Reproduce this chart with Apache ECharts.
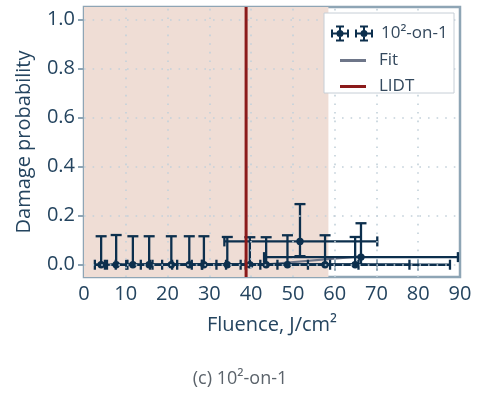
<!DOCTYPE html>
<html>
<head>
<meta charset="utf-8">
<script src="https://cdn.jsdelivr.net/npm/echarts@6/dist/echarts.min.js"></script>
<style>
  html, body { margin: 0; padding: 0; background: #fff; }
  #chart { width: 480px; height: 394px; }
</style>
</head>
<body>
<div id="chart"></div>
<script>
// measured points (fluence in J/cm2, damage probability)
const fluence = [4.1, 7.7, 11.7, 15.6, 20.9, 25.2, 28.7, 34.3, 39.7, 43.6, 48.7, 51.7, 57.7, 64.9, 66.3];
const probability = [0, 0, 0, 0, 0, 0, 0, 0, 0, 0, 0, 0.095, 0, 0, 0.031];
const fluenceLow = [2.6, 5.0, 7.6, 10.1, 13.6, 16.4, 18.7, 22.3, 25.8, 28.3, 31.7, 33.6, 37.5, 42.2, 43.1];
const fluenceHigh = [5.5, 10.4, 15.8, 21.1, 28.2, 34.0, 38.7, 46.3, 53.6, 58.9, 65.7, 70.2, 77.9, 87.6, 89.5];
const probLow = [0, 0, 0, 0, 0, 0, 0, 0, 0, 0, 0, 0.035, 0, 0, 0];
const probHigh = [0.116, 0.121, 0.116, 0.116, 0.116, 0.116, 0.116, 0.113, 0.112, 0.112, 0.12, 0.247, 0.12, 0.113, 0.169];

const fitX = [42.5, 66.3];
const fitY = [0, 0.034];
const lidt = 38.8;
const regionEnd = 58.5;

const xTicks = [0, 10, 20, 30, 40, 50, 60, 70, 80, 90];
const yTicks = [0, 0.2, 0.4, 0.6, 0.8, 1.0];

const NAVY = '#0c2f4d';
const FRAME = '#8ea5b5';
const LABEL = '#24445f';
const FONT = '"Open Sans", "DejaVu Sans", sans-serif';

const chart = echarts.init(document.getElementById('chart'));

const errData = fluence.map((x, i) => [x, probability[i], fluenceLow[i], fluenceHigh[i], probLow[i], probHigh[i]]);

function renderErr(params, api) {
  const x = api.value(0), y = api.value(1);
  const c = api.coord([x, y]);
  const l = api.coord([api.value(2), y]);
  const r = api.coord([api.value(3), y]);
  const b = api.coord([x, api.value(4)]);
  const t = api.coord([x, api.value(5)]);
  const st = { stroke: NAVY, lineWidth: 2.3, fill: null };
  const seg = (x1, y1, x2, y2) => ({ type: 'line', shape: { x1, y1, x2, y2 }, style: st });
  return {
    type: 'group',
    children: [
      seg(l[0], c[1], r[0], c[1]),
      seg(l[0], c[1] - 5, l[0], c[1] + 5),
      seg(r[0], c[1] - 5, r[0], c[1] + 5),
      seg(c[0], b[1], c[0], t[1]),
      seg(c[0] - 5.5, t[1], c[0] + 5.5, t[1]),
      seg(c[0] - 5.5, b[1], c[0] + 5.5, b[1]),
      { type: 'circle', shape: { cx: c[0], cy: c[1], r: 3.7 }, style: { fill: NAVY } }
    ]
  };
}

// legend icon: two small error-bar glyphs side by side
function glyph(cx) {
  return `M${cx - 8} 7H${cx + 8}V9H${cx - 8}Z` +
    `M${cx - 1} 0H${cx + 1}V16H${cx - 1}Z` +
    `M${cx - 9} 4H${cx - 7}V12H${cx - 9}Z` +
    `M${cx + 7} 4H${cx + 9}V12H${cx + 7}Z` +
    `M${cx - 4} 0H${cx + 4}V2H${cx - 4}Z` +
    `M${cx - 4} 14H${cx + 4}V16H${cx - 4}Z` +
    `M${cx - 3.5} 8A3.5 3.5 0 1 1 ${cx + 3.5} 8A3.5 3.5 0 1 1 ${cx - 3.5} 8Z`;
}
const errIcon = 'path://' + glyph(9) + glyph(33);

const gridDash = { color: '#c3d1da', width: 1.6, type: [1.6, 7] };

chart.setOption({
  animation: false,
  textStyle: { fontFamily: FONT },
  title: {
    text: '(c) 10²-on-1',
    left: 'center',
    top: 365,
    textStyle: { fontFamily: FONT, fontSize: 18, fontWeight: 'normal', color: '#5b636b' }
  },
  grid: {
    left: 84, top: 7, width: 376, height: 270,
    show: true, borderColor: FRAME, borderWidth: 2.5, backgroundColor: 'transparent'
  },
  graphic: [{
    type: 'rect',
    shape: { x: 324, y: 13, width: 130, height: 80 },
    style: { fill: '#fff', stroke: '#c6ced6', lineWidth: 1 },
    z: 50
  }],
  legend: [{
    data: [{ name: '10²-on-1', icon: errIcon }],
    left: 326, top: 20,
    itemWidth: 42, itemHeight: 16,
    textStyle: { fontFamily: FONT, fontSize: 17, color: '#34495e', padding: [0, 0, 0, 3] },
    z: 60
  }, {
    data: [{ name: 'Fit', icon: 'rect' }, { name: 'LIDT', icon: 'rect' }],
    orient: 'vertical',
    left: 335, top: 46,
    itemWidth: 26, itemHeight: 3, itemGap: 7,
    textStyle: { fontFamily: FONT, fontSize: 17, lineHeight: 19, color: '#34495e', padding: [0, 0, 0, 8] },
    z: 60
  }],
  xAxis: [{
    type: 'value', min: 0, max: 90, interval: 10, position: 'bottom',
    name: 'Fluence, J/cm²', nameLocation: 'middle', nameGap: 38,
    nameTextStyle: { fontFamily: FONT, fontSize: 20, color: LABEL },
    axisLine: { show: false },
    axisTick: { show: true, inside: true, length: 6, lineStyle: { color: FRAME, width: 2 } },
    axisLabel: { margin: 7, fontFamily: FONT, fontSize: 20, color: LABEL, showMinLabel: true, showMaxLabel: true },
    splitLine: { show: false }
  }, {
    type: 'value', min: 0, max: 90, interval: 10, position: 'top',
    axisLine: { show: false },
    axisTick: { show: true, inside: true, length: 6, lineStyle: { color: FRAME, width: 2 } },
    axisLabel: { show: false },
    splitLine: { show: false }
  }],
  yAxis: [{
    type: 'value', min: -0.05, max: 1.05, position: 'left',
    name: 'Damage probability', nameLocation: 'middle', nameGap: 50, nameRotate: 90,
    nameTextStyle: { fontFamily: FONT, fontSize: 20, color: LABEL },
    axisLine: { show: false },
    axisTick: { show: true, inside: true, length: 6, customValues: yTicks, lineStyle: { color: FRAME, width: 2 } },
    axisLabel: {
      margin: 9, fontFamily: FONT, fontSize: 20, color: LABEL, customValues: yTicks,
      formatter: v => v.toFixed(1)
    },
    splitLine: { show: false }
  }, {
    type: 'value', min: -0.05, max: 1.05, position: 'right',
    axisLine: { show: false },
    axisTick: { show: true, inside: true, length: 6, customValues: yTicks, lineStyle: { color: FRAME, width: 2 } },
    axisLabel: { show: false, customValues: yTicks },
    splitLine: { show: false }
  }],
  series: [{
    name: 'region',
    type: 'line',
    data: [],
    silent: true,
    z: 1,
    markArea: {
      silent: true,
      itemStyle: { color: '#efddd5', opacity: 1 },
      data: [[{ xAxis: 0 }, { xAxis: regionEnd }]]
    }
  }, {
    name: 'grid',
    type: 'line',
    data: [],
    silent: true,
    z: 2,
    markLine: {
      silent: true,
      symbol: 'none',
      label: { show: false },
      lineStyle: gridDash,
      data: xTicks.slice(1, -1).map(v => ({ xAxis: v })).concat(yTicks.map(v => ({ yAxis: v })))
    }
  }, {
    name: 'Fit',
    type: 'line',
    data: fitX.map((x, i) => [x, fitY[i]]),
    showSymbol: false,
    lineStyle: { color: '#6e7689', width: 2.2 },
    itemStyle: { color: '#6e7689' },
    z: 3
  }, {
    name: '10²-on-1',
    type: 'custom',
    renderItem: renderErr,
    data: errData,
    encode: { x: [0, 2, 3], y: [1, 4, 5] },
    itemStyle: { color: NAVY },
    clip: true,
    z: 4
  }, {
    name: 'LIDT',
    type: 'line',
    data: [[lidt, -0.05], [lidt, 1.05]],
    showSymbol: false,
    lineStyle: { color: '#8b1a1a', width: 3 },
    itemStyle: { color: '#8b1a1a' },
    z: 5
  }]
});
</script>
</body>
</html>
